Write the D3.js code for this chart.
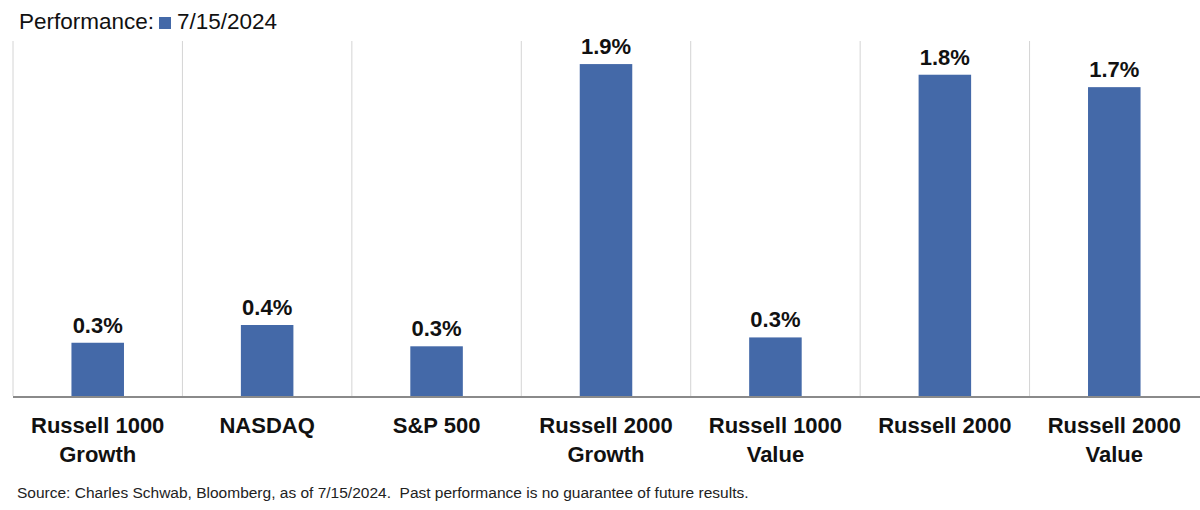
<!DOCTYPE html>
<html>
<head>
<meta charset="utf-8">
<script src="https://cdn.jsdelivr.net/npm/d3@7"></script>
<style>
  html, body { margin: 0; padding: 0; background: #fff; }
  svg { display: block; font-family: "Liberation Sans", Arial, sans-serif; }
</style>
</head>
<body>
<svg id="chart"></svg>
<script>
// datos
const categories = [
    ["Russell 1000", "Growth"],
    ["NASDAQ"],
    ["S&P 500"],
    ["Russell 2000", "Growth"],
    ["Russell 1000", "Value"],
    ["Russell 2000"],
    ["Russell 2000", "Value"]
];
const values = [0.30, 0.40, 0.28, 1.87, 0.33, 1.81, 1.74];
const valueLabels = ["0.3%", "0.4%", "0.3%", "1.9%", "0.3%", "1.8%", "1.7%"];
const legendTitle = "Performance:";
const seriesName = "7/15/2024";
const sourceNote = "Source: Charles Schwab, Bloomberg, as of 7/15/2024.  Past performance is no guarantee of future results.";

const width = 1200, height = 510;
const barColor = "#4469a8";

const svg = d3.select("#chart")
    .attr("width", width)
    .attr("height", height);

const x = d3.scaleBand()
    .domain(d3.range(categories.length))
    .range([13, 1199])
    .paddingInner(0.69)
    .paddingOuter(0.345);

const y = d3.scaleLinear()
    .domain([0, 2.0])
    .range([396, 41]);

// lineas verticales entre categorias
const step = x.step();
const x0 = x.range()[0];
svg.append("g")
    .selectAll("line")
    .data(d3.range(categories.length))
    .enter().append("line")
    .attr("x1", i => x0 + i * step)
    .attr("x2", i => x0 + i * step)
    .attr("y1", y(2.0))
    .attr("y2", y(0))
    .attr("stroke", "#d4d4d4")
    .attr("stroke-width", 1);

// barras
svg.append("g")
    .selectAll("rect")
    .data(values)
    .enter().append("rect")
    .attr("x", (d, i) => x(i))
    .attr("y", d => y(d))
    .attr("width", x.bandwidth())
    .attr("height", d => y(0) - y(d))
    .attr("fill", barColor);

// etiquetas de valor
svg.append("g")
    .selectAll("text")
    .data(values)
    .enter().append("text")
    .attr("x", (d, i) => x(i) + x.bandwidth() / 2)
    .attr("y", d => y(d) - 10)
    .attr("text-anchor", "middle")
    .style("font-size", "22px")
    .style("font-weight", "bold")
    .attr("fill", "#111")
    .text((d, i) => valueLabels[i]);

// eje base
svg.append("line")
    .attr("x1", x0)
    .attr("x2", width)
    .attr("y1", y(0) + 1)
    .attr("y2", y(0) + 1)
    .attr("stroke", "#8a8a8a")
    .attr("stroke-width", 2);

// etiquetas de categoria
const cat = svg.append("g")
    .selectAll("text")
    .data(categories)
    .enter().append("text")
    .attr("text-anchor", "middle")
    .attr("x", (d, i) => x(i) + x.bandwidth() / 2)
    .attr("y", 433)
    .style("font-size", "22px")
    .style("font-weight", "bold")
    .attr("fill", "#111");

cat.selectAll("tspan")
    .data(d => d)
    .enter().append("tspan")
    .attr("x", function () { return d3.select(this.parentNode).attr("x"); })
    .attr("dy", (d, i) => i === 0 ? 0 : 29)
    .text(d => d);

// leyenda
const legend = svg.append("g");
legend.append("text")
    .attr("x", 19)
    .attr("y", 29)
    .style("font-size", "22.5px")
    .attr("fill", "#111")
    .text(legendTitle);
legend.append("rect")
    .attr("x", 159)
    .attr("y", 17)
    .attr("width", 12)
    .attr("height", 12)
    .attr("fill", barColor);
legend.append("text")
    .attr("x", 177)
    .attr("y", 29)
    .style("font-size", "22.5px")
    .attr("fill", "#111")
    .text(seriesName);

// nota de fuente
svg.append("text")
    .attr("x", 17)
    .attr("y", 498)
    .style("font-size", "15.5px")
    .style("white-space", "pre")
    .attr("fill", "#222")
    .text(sourceNote);
</script>
</body>
</html>
